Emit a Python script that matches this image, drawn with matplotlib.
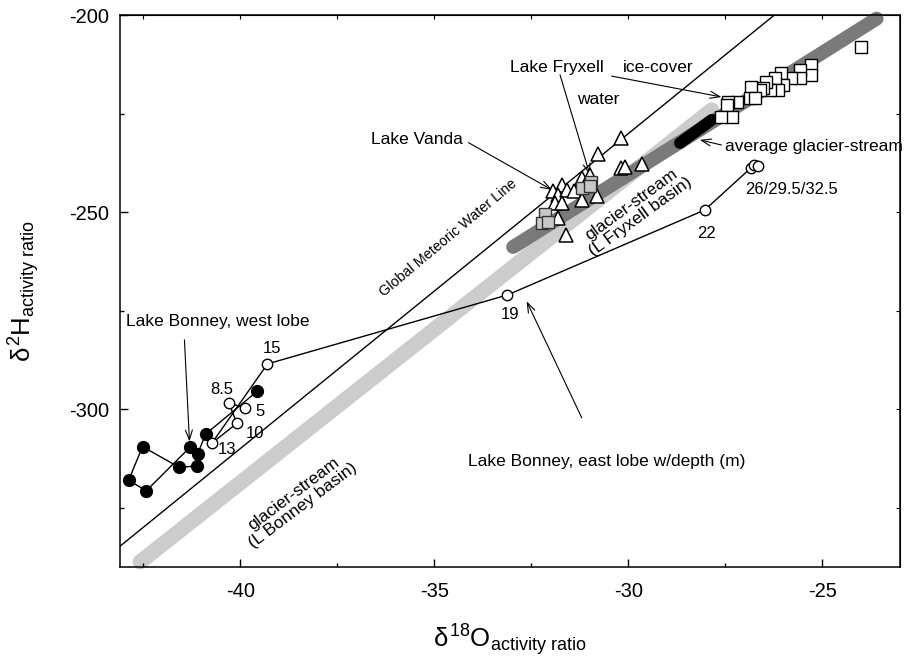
import numpy as np
import matplotlib.pyplot as plt

plt.rcParams['font.family'] = ['Liberation Sans', 'DejaVu Sans']
plt.rcParams['mathtext.fontset'] = 'custom'
plt.rcParams['mathtext.rm'] = 'Liberation Sans'
plt.rcParams['mathtext.it'] = 'Liberation Sans'
plt.rcParams['axes.unicode_minus'] = False

# Lake Bonney, west lobe (filled circles)
west_o18 = [-39.57, -40.89, -41.10, -41.12, -41.57, -42.52, -42.88, -42.42, -41.29]
west_h2 = [-295.5, -306.3, -311.3, -314.4, -314.8, -309.5, -318.1, -320.7, -309.6]

# Lake Bonney, east lobe with depth (open circles)
east_depth = ['5', '8.5', '10', '13', '15', '19', '22', '26', '29.5', '32.5']
east_o18 = [-39.89, -40.29, -40.09, -40.73, -39.30, -33.12, -28.03, -26.85, -26.75, -26.65]
east_h2 = [-299.6, -298.5, -303.6, -308.6, -288.5, -271.0, -249.4, -238.8, -238.0, -238.3]

# Lake Vanda (triangles)
vanda_o18 = [-30.20, -30.79, -30.18, -30.09, -29.64, -31.20, -31.72, -31.94, -31.81, -31.59,
             -31.40, -31.20, -30.82, -31.89, -31.72, -31.81, -31.61, -30.99]
vanda_h2 = [-231.2, -235.2, -238.8, -238.4, -237.7, -241.3, -243.0, -244.5, -245.6, -244.3,
            -244.7, -246.8, -245.8, -247.7, -247.7, -251.5, -255.7, -240.5]

# Lake Fryxell water (grey squares)
fry_water_o18 = [-32.15, -32.23, -32.07, -31.20, -30.95, -30.99]
fry_water_h2 = [-250.4, -252.7, -252.4, -243.9, -242.2, -243.3]

# Lake Fryxell ice-cover (open squares)
fry_ice_o18 = [-24.00, -25.28, -25.28, -25.58, -25.58, -25.80, -26.06, -26.01, -26.23, -26.14,
               -26.36, -26.44, -26.53, -26.61, -26.83, -26.87, -26.74, -27.21, -27.43, -27.47,
               -27.34, -27.60]
fry_ice_h2 = [-207.9, -212.6, -215.1, -213.8, -215.9, -215.9, -214.7, -217.6, -215.9, -218.9,
              -218.9, -216.8, -218.5, -218.9, -218.1, -221.0, -221.0, -221.9, -221.9, -222.7,
              -225.8, -225.8]

# glacier-stream bands (end points)
bonney_stream_o18 = [-42.58, -27.85]
bonney_stream_h2 = [-338.8, -224.0]
fryxell_stream_o18 = [-32.97, -23.60]
fryxell_stream_h2 = [-258.8, -200.8]
avg_stream_o18 = [-28.67, -27.85]
avg_stream_h2 = [-232.4, -226.5]

# depth label positions
depth_lab_x = [-39.49, -40.47, -39.62, -40.35, -39.19, -33.05, -27.99, -25.80]
depth_lab_y = [-300.6, -295.1, -306.1, -310.3, -284.5, -276.0, -255.3, -244.3]
depth_lab_txt = ['5', '8.5', '10', '13', '15', '19', '22', '26/29.5/32.5']

xlim = (-43.1, -23.0)
ylim = (-340, -200)

fig = plt.figure(figsize=(9.12, 6.61), dpi=100)
ax = fig.add_axes([0.1316, 0.1427, 0.8552, 0.8339])

# bands
ax.plot(bonney_stream_o18, bonney_stream_h2, color='#cccccc', lw=11,
        solid_capstyle='round', clip_on=False, zorder=1)
ax.plot(fryxell_stream_o18, fryxell_stream_h2, color='#7a7a7a', lw=10,
        solid_capstyle='round', clip_on=False, zorder=2)
ax.plot(avg_stream_o18, avg_stream_h2, color='black', lw=8.5,
        solid_capstyle='round', zorder=3)

# global meteoric water line
gx = np.array(xlim)
ax.plot(gx, 8 * gx + 10, color='black', lw=1.0, zorder=4)

# Lake Bonney
ax.plot(west_o18, west_h2, '-o', color='black', lw=1.0, ms=8.5,
        mfc='black', mec='black', zorder=5)
ax.plot(east_o18, east_h2, '-o', color='black', lw=1.0, ms=7.5,
        mfc='white', mec='black', mew=1.0, zorder=6)

# Lake Vanda, Lake Fryxell
ax.plot(vanda_o18, vanda_h2, '^', ms=9.5, mfc='white', mec='black', mew=1.1, zorder=7)
ax.plot(fry_water_o18, fry_water_h2, 's', ms=8.5, mfc='#c8c8c8', mec='#333333', mew=1.0, zorder=8)
ax.plot(fry_ice_o18, fry_ice_h2, 's', ms=8.5, mfc='white', mec='black', mew=1.0, zorder=8)

for x, y, t in zip(depth_lab_x, depth_lab_y, depth_lab_txt):
    ax.text(x, y, t, fontsize=12, ha='center', va='center', zorder=9)

arrow = dict(arrowstyle='->,head_length=0.7,head_width=0.25', lw=0.8, color='black',
             shrinkA=0, shrinkB=0)
fs = 12.5

ax.text(-33.05, -213.1, 'Lake Fryxell', fontsize=fs, ha='left', va='center')
ax.text(-30.14, -213.1, 'ice-cover', fontsize=fs, ha='left', va='center')
ax.text(-31.33, -221.4, 'water', fontsize=fs, ha='left', va='center')
ax.annotate('', xy=(-30.99, -240.5), xytext=(-31.76, -215.1), arrowprops=arrow)
ax.annotate('', xy=(-27.60, -220.7), xytext=(-30.43, -215.4), arrowprops=arrow)

ax.text(-34.26, -231.6, 'Lake Vanda', fontsize=fs, ha='right', va='center')
ax.annotate('', xy=(-31.97, -244.3), xytext=(-34.12, -232.3), arrowprops=arrow)

ax.text(-27.52, -233.3, 'average glacier-stream', fontsize=fs, ha='left', va='center')
ax.annotate('', xy=(-28.16, -231.6), xytext=(-27.60, -232.9), arrowprops=arrow)

ax.text(-42.94, -277.8, 'Lake Bonney, west lobe', fontsize=fs, ha='left', va='center')
ax.annotate('', xy=(-41.31, -308.2), xytext=(-41.44, -282.4), arrowprops=arrow)

ax.text(-34.14, -313.3, 'Lake Bonney, east lobe w/depth (m)', fontsize=fs, ha='left', va='center')
ax.annotate('', xy=(-32.62, -272.6), xytext=(-31.20, -302.2), arrowprops=arrow)

ax.text(-34.65, -256.6, 'Global Meteoric Water Line', fontsize=10.4, rotation=40,
        ha='center', va='center', rotation_mode='anchor')
ax.text(-29.81, -249.6, 'glacier-stream\n(L Fryxell basin)', fontsize=fs, rotation=36,
        ha='center', va='center', rotation_mode='anchor', linespacing=1.0)
ax.text(-38.51, -323.0, 'glacier-stream\n(L Bonney basin)', fontsize=fs, rotation=37,
        ha='center', va='center', rotation_mode='anchor', linespacing=1.0)

ax.set_xlim(*xlim)
ax.set_ylim(*ylim)
ax.set_xticks([-40, -35, -30, -25])
ax.set_xticks([-42.5, -37.5, -32.5, -27.5], minor=True)
ax.set_yticks([-300, -250, -200])
ax.set_yticks([-325, -275, -225], minor=True)
ax.tick_params(which='both', direction='in', labelsize=14.5, width=1.0)
ax.tick_params(which='major', length=6)
ax.tick_params(which='minor', length=3)
ax.tick_params(axis='x', pad=11)
ax.tick_params(axis='y', pad=8)

top = ax.secondary_xaxis('top')
top.set_xticks([-42.5, -40, -37.5, -35, -32.5, -30, -27.5, -25])
top.tick_params(direction='in', length=3, labeltop=False)
right = ax.secondary_yaxis('right')
right.set_yticks([-325, -300, -275, -250, -225, -200])
right.tick_params(direction='in', length=3, labelright=False)

for s in ax.spines.values():
    s.set_linewidth(1.1)

ax.set_xlabel(r'$\delta^{18}\mathrm{O}_{\mathrm{activity\ ratio}}$', fontsize=18.5)
ax.set_ylabel(r'$\delta^{2}\mathrm{H}_{\mathrm{activity\ ratio}}$', fontsize=18.5)
ax.xaxis.set_label_coords(0.5, -0.1)
ax.yaxis.set_label_coords(-0.1, 0.5)

fig.savefig('out.png', dpi=100)
